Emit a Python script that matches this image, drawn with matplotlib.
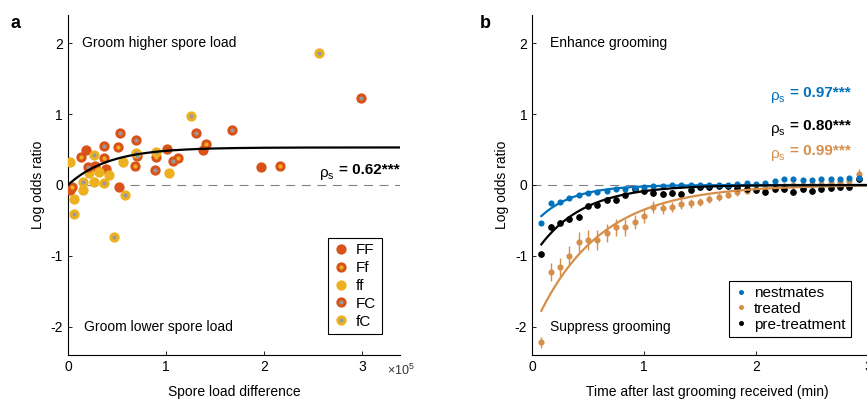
import numpy as np
import matplotlib.pyplot as plt
from matplotlib.lines import Line2D
from matplotlib.legend_handler import HandlerTuple

plt.rcParams['font.family'] = ['Liberation Sans', 'DejaVu Sans']
plt.rcParams['font.size'] = 10
plt.rcParams['axes.unicode_minus'] = False
plt.rcParams['mathtext.fontset'] = 'custom'
plt.rcParams['mathtext.rm'] = 'Liberation Sans'
plt.rcParams['mathtext.it'] = 'Liberation Sans'
plt.rcParams['mathtext.bf'] = 'Liberation Sans:bold'

# ---- panel a data (spore load difference in units of 1e5) ----
ff_FF_x = [0.187, 0.272, 0.384, 1.013, 1.374, 1.973, 0.524, 0.024]
ff_FF_y = [0.49, 0.27, 0.22, 0.51, 0.495, 0.26, -0.033, -0.066]

Ff_x = [1.405, 0.514, 0.364, 0.136, 0.684, 0.90, 1.122, 2.163, 0.041]
Ff_y = [0.584, 0.53, 0.386, 0.40, 0.27, 0.40, 0.377, 0.27, -0.033]

ff_x = [0.02, 0.214, 0.32, 0.418, 0.561, 1.03, 0.262, 0.153, 0.061]
ff_y = [0.32, 0.165, 0.18, 0.146, 0.32, 0.165, 0.047, -0.075, -0.20]

FC_x = [2.99, 1.673, 1.306, 0.531, 0.697, 0.708, 0.364, 0.204, 0.891, 1.075]
FC_y = [1.23, 0.777, 0.73, 0.74, 0.63, 0.41, 0.547, 0.26, 0.212, 0.34]

fC_x = [2.565, 1.255, 0.697, 0.265, 0.895, 0.156, 0.371, 0.578, 0.061, 0.473]
fC_y = [1.866, 0.975, 0.457, 0.42, 0.466, 0.042, 0.024, -0.146, -0.41, -0.74]

fit_a_amp, fit_a_scale = 0.53, 0.415
rho_a = "0.62"

# ---- panel b data (time in min, 5 s bins) ----
t_min = np.arange(1, 36) * 5 / 60.0
nest = [-0.54, -0.26, -0.24, -0.186, -0.138, -0.114, -0.10, -0.08, -0.062, -0.052,
        -0.038, -0.029, -0.014, -0.01, 0.005, 0.0, 0.005, 0.0, 0.005, 0.005,
        0.005, 0.01, 0.024, 0.02, 0.024, 0.062, 0.09, 0.08, 0.07, 0.07,
        0.08, 0.08, 0.08, 0.095, 0.1]
nest_err = [0.02] * 35
treated = [-2.22, -1.23, -1.157, -1.005, -0.8, -0.776, -0.776, -0.68, -0.6, -0.595,
           -0.524, -0.443, -0.31, -0.33, -0.305, -0.27, -0.26, -0.243, -0.2, -0.17,
           -0.14, -0.1, -0.08, -0.06, -0.04, -0.03, -0.02, 0.0, 0.0, 0.02,
           0.02, 0.03, 0.04, 0.06, 0.15]
treated_err = [0.08, 0.13, 0.13, 0.14, 0.14, 0.14, 0.14, 0.13, 0.12, 0.12,
               0.1, 0.1, 0.08, 0.08, 0.07, 0.07, 0.06, 0.06, 0.06, 0.05,
               0.05, 0.05, 0.05, 0.05, 0.05, 0.05, 0.05, 0.05, 0.05, 0.05,
               0.05, 0.05, 0.05, 0.05, 0.08]
pretreat = [-0.98, -0.586, -0.53, -0.48, -0.45, -0.29, -0.276, -0.205, -0.214, -0.148,
            -0.052, -0.09, -0.11, -0.124, -0.11, -0.124, -0.076, -0.033, -0.033, -0.014,
            -0.014, -0.038, -0.052, -0.071, -0.095, -0.062, -0.061, -0.1, -0.061, -0.086,
            -0.061, -0.043, -0.033, -0.03, 0.08]
pretreat_err = [0.04] * 35

fit_b = {"nest": (0.58, 0.30), "treated": (2.06, 0.563), "pretreat": (1.03, 0.405)}
rho_b = {"nest": "0.97", "pretreat": "0.80", "treated": "0.99"}

RED = '#D95319'
YEL = '#EDB120'
GRAY = '#999999'
BLUE = '#0072BD'
ORANGE = '#D58F4A'


def rho_text(ax, x, y, val, color='black'):
    # bold "= value***" right-aligned, then the rho_s placed just left of it
    t = ax.text(x, y, "= " + val + "***", ha='right', va='baseline', fontsize=11,
                fontweight='bold', color=color)
    ax.annotate(r"ρ$_\mathregular{s}$", xy=(0, 0), xycoords=t, xytext=(-3, 0),
                textcoords='offset points', ha='right', va='baseline', fontsize=11, color=color)


fig = plt.figure(figsize=(8.67, 4.04), dpi=100)
ax1 = fig.add_axes([0.0784, 0.1213, 0.383, 0.8416])
ax2 = fig.add_axes([0.6136, 0.1213, 0.4037, 0.8416])

for ax in (ax1, ax2):
    ax.spines['top'].set_visible(False)
    ax.spines['right'].set_visible(False)
    ax.tick_params(direction='in', length=3, width=0.6)
    ax.set_ylim(-2.4, 2.4)
    ax.set_yticks([-2, -1, 0, 1, 2])
    ax.set_ylabel("Log odds ratio")

# panel a
ax1.set_xlim(0, 3.39)
ax1.set_xticks([0, 1, 2, 3])
ax1.axhline(0, color='#808080', lw=0.8, ls=(0, (8, 6)), zorder=1)
ms_big, ms_small = 55, 9
ax1.scatter(ff_FF_x, ff_FF_y, s=ms_big, c=RED, lw=0, zorder=3)
ax1.scatter(Ff_x, Ff_y, s=ms_big, c=RED, lw=0, zorder=3)
ax1.scatter(Ff_x, Ff_y, s=ms_small, c=YEL, lw=0, zorder=4)
ax1.scatter(ff_x, ff_y, s=ms_big, c=YEL, lw=0, zorder=3)
ax1.scatter(FC_x, FC_y, s=ms_big, c=RED, lw=0, zorder=3)
ax1.scatter(FC_x, FC_y, s=ms_small, c=GRAY, lw=0, zorder=4)
ax1.scatter(fC_x, fC_y, s=ms_big, c=YEL, lw=0, zorder=3)
ax1.scatter(fC_x, fC_y, s=ms_small, c=GRAY, lw=0, zorder=4)
xf = np.linspace(0, 3.39, 300)
ax1.plot(xf, fit_a_amp * (1 - np.exp(-xf / fit_a_scale)), color='black', lw=1.6, zorder=5)
rho_text(ax1, 3.39, 0.16, rho_a)
ax1.text(0.14, 2.0, "Groom higher spore load", va='center')
ax1.text(0.16, -2.0, "Groom lower spore load", va='center')
ax1.set_xlabel("Spore load difference", labelpad=8)
ax1.text(0.962, -0.045, r"$\times 10^5$", transform=ax1.transAxes, ha='left', va='center',
         color='#333333', fontsize=9)


def mk(c, inner=None):
    h = Line2D([], [], ls='', marker='o', ms=7.4, mfc=c, mec='none')
    if inner is None:
        return h
    return (h, Line2D([], [], ls='', marker='o', ms=3.0, mfc=inner, mec='none'))


handles = [mk(RED), mk(RED, YEL), mk(YEL), mk(RED, GRAY), mk(YEL, GRAY)]
leg1 = ax1.legend(handles, ["FF", "Ff", "ff", "FC", "fC"], loc='lower left',
                  bbox_to_anchor=(0.783, 0.062), handler_map={tuple: HandlerTuple(ndivide=1, pad=0)},
                  fancybox=False, edgecolor='black', framealpha=1, handlelength=1.0,
                  handletextpad=0.5, labelspacing=0.25, borderpad=0.35, borderaxespad=0,
                  fontsize=11)
leg1.get_frame().set_linewidth(0.8)

# panel b
ax2.set_xlim(0, 3.125)
ax2.set_xticks([0, 1, 2, 3])
ax2.axhline(0, color='#808080', lw=0.8, ls=(0, (8, 6)), zorder=1)
ax2.errorbar(t_min, treated, yerr=treated_err, fmt='o', ms=3.4, color=ORANGE, elinewidth=1.0, capsize=0, zorder=3)
ax2.errorbar(t_min, pretreat, yerr=pretreat_err, fmt='o', ms=3.8, color='black', elinewidth=1.0, capsize=0, zorder=3)
ax2.errorbar(t_min, nest, yerr=nest_err, fmt='o', ms=3.4, color=BLUE, elinewidth=1.0, capsize=0, zorder=3)
tf = np.linspace(t_min[0], 3.125, 300)
for key, col in (("treated", ORANGE), ("nest", BLUE), ("pretreat", 'black')):
    amp, tau = fit_b[key]
    ax2.plot(tf, -amp * np.exp(-tf / tau), color=col, lw=1.6, zorder=4)

for key, col, yy in (("nest", BLUE, 1.24), ("pretreat", 'black', 0.78), ("treated", ORANGE, 0.42)):
    rho_text(ax2, 2.85, yy, rho_b[key], color=col)
ax2.text(0.16, 2.0, "Enhance grooming", va='center')
ax2.text(0.16, -2.0, "Suppress grooming", va='center')
ax2.set_xlabel("Time after last grooming received (min)", labelpad=8)

hb = [Line2D([], [], ls='', marker='o', ms=3.6, mfc=c, mec='none') for c in (BLUE, ORANGE, 'black')]
leg2 = ax2.legend(hb, ["nestmates", "treated", "pre-treatment"], loc='lower left',
                  bbox_to_anchor=(0.563, 0.053), fancybox=False, edgecolor='black', framealpha=1,
                  handlelength=0.8, handletextpad=0.5, labelspacing=0.12, borderpad=0.35,
                  borderaxespad=0, fontsize=11)
leg2.get_frame().set_linewidth(0.8)

fig.text(0.012, 0.93, "a", fontsize=13, fontweight='bold')
fig.text(0.553, 0.93, "b", fontsize=13, fontweight='bold')

fig.savefig("out.png", dpi=100)
